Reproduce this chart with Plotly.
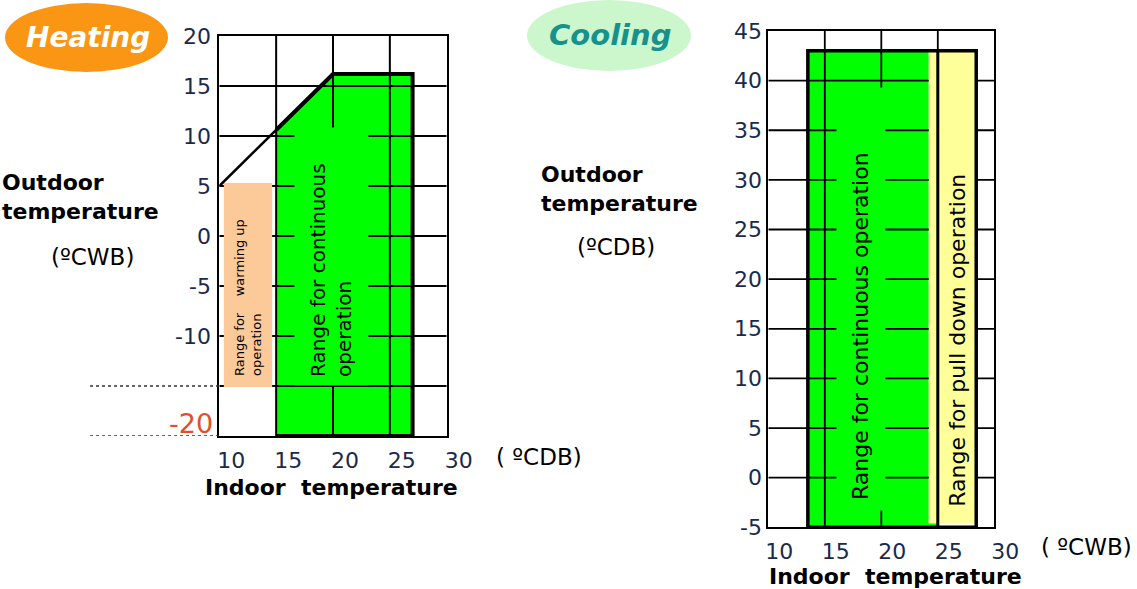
import plotly.graph_objects as go

W, H = 1137, 589

# ---------------- data ----------------
# Heating chart (indoor ºCDB vs outdoor ºCWB)
heat_x_ticks = [10, 15, 20, 25, 30]
heat_x_labels = ["10", "15", "20", "25", "30"]
heat_y_ticks = [20, 15, 10, 5, 0, -5, -10]
heat_y_labels = ["20", "15", "10", "5", "0", "-5", "-10"]
heat_grid_x = [15, 20, 25]
heat_grid_y = [15, 10, 5, 0, -5, -10, -15]
heat_cont_x = [15, 15, 20, 27, 27, 15]
heat_cont_y = [-20, 10.6, 16.2, 16.2, -20, -20]
heat_limit_x = [10, 20]
heat_limit_y = [5, 16.2]
heat_warm_x = [10.4, 10.4, 14.65, 14.65, 10.4]
heat_warm_y = [-15.1, 5.3, 5.3, -15.1, -15.1]
heat_dotted_y = [-15, -20]

# Cooling chart (indoor ºCWB vs outdoor ºCDB)
cool_x_ticks = [10, 15, 20, 25, 30]
cool_x_labels = ["10", "15", "20", "25", "30"]
cool_y_ticks = [45, 40, 35, 30, 25, 20, 15, 10, 5, 0, -5]
cool_y_labels = ["45", "40", "35", "30", "25", "20", "15", "10", "5", "0", "-5"]
cool_grid_x = [15, 20, 25]
cool_grid_y = [40, 35, 30, 25, 20, 15, 10, 5, 0]
cool_cont_x = [13.5, 13.5, 24.2, 24.2, 25, 25, 13.5]
cool_cont_y = [-5, 43, 43, -4.6, -4.6, -5, -5]
cool_pull_x = [24.2, 24.2, 28.4, 28.4, 24.2]
cool_pull_y = [-4.6, 43, 43, -4.6, -4.6]
cool_outline_x = [13.5, 13.5, 28.4, 28.4, 13.5]
cool_outline_y = [-5, 43, 43, -5, -5]
cool_split_x = [25, 25]
cool_split_y = [-5, 43]

GREEN = "#00FF00"
PEACH = "#FCC999"
YELLOW = "#FFFF99"
NAVY = "#1B2A4A"
FONT = "DejaVu Sans"

fig = go.Figure()


def grid_trace(xs, ys, xr, yr, xa, ya, width):
    gx, gy = [], []
    for v in xs:
        gx += [v, v, None]
        gy += [yr[0], yr[1], None]
    for v in ys:
        gx += [xr[0], xr[1], None]
        gy += [v, v, None]
    return go.Scatter(x=gx, y=gy, mode="lines", line=dict(color="black", width=width),
                      xaxis=xa, yaxis=ya, hoverinfo="skip", showlegend=False)


# ---- heating ----
fig.add_trace(go.Scatter(x=heat_cont_x, y=heat_cont_y, fill="toself", fillcolor=GREEN,
                         mode="lines", line=dict(width=0), hoverinfo="skip",
                         showlegend=False, xaxis="x", yaxis="y"))
fig.add_trace(grid_trace(heat_grid_x, heat_grid_y, [10, 30], [-20, 20], "x", "y", 2))
fig.add_trace(go.Scatter(x=heat_warm_x, y=heat_warm_y, fill="toself", fillcolor=PEACH,
                         mode="lines", line=dict(width=0), hoverinfo="skip",
                         showlegend=False, xaxis="x", yaxis="y"))
fig.add_trace(go.Scatter(x=heat_cont_x[1:] + [heat_cont_x[0]], y=heat_cont_y[1:] + [heat_cont_y[0]],
                         mode="lines", line=dict(color="black", width=4),
                         hoverinfo="skip", showlegend=False, xaxis="x", yaxis="y"))
fig.add_trace(go.Scatter(x=heat_limit_x, y=heat_limit_y, mode="lines",
                         line=dict(color="black", width=2.5), hoverinfo="skip",
                         showlegend=False, xaxis="x", yaxis="y"))

# ---- cooling ----
fig.add_trace(go.Scatter(x=cool_cont_x, y=cool_cont_y, fill="toself", fillcolor=GREEN,
                         mode="lines", line=dict(width=0), hoverinfo="skip",
                         showlegend=False, xaxis="x2", yaxis="y2"))
fig.add_trace(grid_trace(cool_grid_x, cool_grid_y, [10, 30], [-5, 45], "x2", "y2", 1.8))
fig.add_trace(go.Scatter(x=cool_pull_x, y=cool_pull_y, fill="toself", fillcolor=YELLOW,
                         mode="lines", line=dict(width=0), hoverinfo="skip",
                         showlegend=False, xaxis="x2", yaxis="y2"))
fig.add_trace(go.Scatter(x=cool_outline_x, y=cool_outline_y, mode="lines",
                         line=dict(color="black", width=3.5), hoverinfo="skip",
                         showlegend=False, xaxis="x2", yaxis="y2"))
fig.add_trace(go.Scatter(x=cool_split_x, y=cool_split_y, mode="lines",
                         line=dict(color="black", width=3), hoverinfo="skip",
                         showlegend=False, xaxis="x2", yaxis="y2"))

axis_common = dict(showgrid=False, zeroline=False, showline=True, mirror=True,
                   linecolor="black", linewidth=2, ticks="", layer="above traces",
                   tickfont=dict(family=FONT, size=22, color=NAVY), fixedrange=True)

fig.update_layout(
    width=W, height=H,
    margin=dict(l=0, r=0, t=0, b=0, autoexpand=False),
    paper_bgcolor="white", plot_bgcolor="white",
    showlegend=False,
    xaxis=dict(domain=[219.3 / W, 446.7 / W], range=[10, 30], tickvals=heat_x_ticks,
               ticktext=heat_x_labels, anchor="y", ticklabelshift=12, ticklabelstandoff=4,
               **axis_common),
    yaxis=dict(domain=[(H - 436) / H, (H - 36) / H], range=[-20, 20], tickvals=heat_y_ticks,
               ticktext=heat_y_labels, anchor="x", ticklabelstandoff=2, **axis_common),
    xaxis2=dict(domain=[768.3 / W, 994.3 / W], range=[10, 30], tickvals=cool_x_ticks,
                ticktext=cool_x_labels, anchor="y2", ticklabelshift=11, ticklabelstandoff=3,
                **axis_common),
    yaxis2=dict(domain=[(H - 527.3) / H, (H - 31) / H], range=[-5, 45], tickvals=cool_y_ticks,
                ticktext=cool_y_labels, anchor="x2", ticklabelstandoff=0, **axis_common),
)

# ---- decorative shapes ----
fig.add_shape(type="circle", xref="paper", yref="paper", x0=5 / W, x1=168 / W,
              y0=1 - 72 / H, y1=1 - 3 / H, fillcolor="#FA9614", line=dict(width=0), layer="below")
fig.add_shape(type="circle", xref="paper", yref="paper", x0=527 / W, x1=691 / W,
              y0=1 - 71 / H, y1=1 - 0 / H, fillcolor="#CCF6CC", line=dict(width=0), layer="below")
for v in heat_dotted_y:
    fig.add_shape(type="line", xref="paper", yref="y", x0=90 / W, x1=219 / W, y0=v, y1=v,
                  line=dict(color="#333333", width=1.5, dash="dot"))


def pann(text, x, y, size=22, color="black", xanchor="center", yanchor="middle", align="center"):
    fig.add_annotation(text=text, xref="paper", yref="paper", x=x / W, y=1 - y / H,
                       showarrow=False, xanchor=xanchor, yanchor=yanchor, align=align,
                       font=dict(family=FONT, size=size, color=color))


# titles in ellipses
pann("<b><i>Heating</i></b>", 88, 37, size=28, color="white")
pann("<b><i>Cooling</i></b>", 610, 35, size=29, color="#17918C")

# heating labels
pann("<b>Outdoor<br>temperature</b>", 0, 197, size=22, xanchor="left", align="left")
pann("(ºCWB)", 92, 257, size=23)
pann("( ºCDB)", 539, 457, size=23)
pann("<b>Indoor\u00a0\u00a0temperature</b>", 331, 487, size=22)
fig.add_annotation(text="-20", xref="paper", yref="y", x=215 / W, y=-20, yshift=13,
                   xanchor="right", yanchor="middle", showarrow=False,
                   font=dict(family=FONT, size=27, color="#E0502A"))

# cooling labels
pann("<b>Outdoor<br>temperature</b>", 539, 189, size=22, xanchor="left", align="left")
pann("(ºCDB)", 616, 247, size=23)
pann("( ºCWB)", 1086, 547, size=23)
pann("<b>Indoor\u00a0\u00a0temperature</b>", 895, 576, size=22)

# region texts
fig.add_annotation(text="Range for continuous<br>operation", xref="x", yref="y",
                   x=19.86, y=-2.05, textangle=-90, showarrow=False, align="left",
                   width=241, height=57, borderpad=8, bgcolor=GREEN,
                   font=dict(family=FONT, size=20, color="black"))
fig.add_annotation(text="Range for\u00a0\u00a0\u00a0\u00a0warming up<br>operation", xref="x", yref="y",
                   x=12.48, y=-6.15, textangle=-90, showarrow=False, align="left",
                   font=dict(family=FONT, size=13, color="black"))
fig.add_annotation(text="Range for continuous operation", xref="x2", yref="y2",
                   x=18.2, y=18, textangle=-90, showarrow=False, align="left",
                   width=402, height=28, borderpad=10, bgcolor=GREEN,
                   font=dict(family=FONT, size=22, color="black"))
fig.add_annotation(text="Range for pull down operation", xref="x2", yref="y2",
                   x=26.75, y=13.85, textangle=-90, showarrow=False,
                   font=dict(family=FONT, size=22, color="black"))

fig.write_html("out.html", config={"displayModeBar": False},
               post_script="document.body.style.margin='0';document.body.style.overflow='hidden';")
